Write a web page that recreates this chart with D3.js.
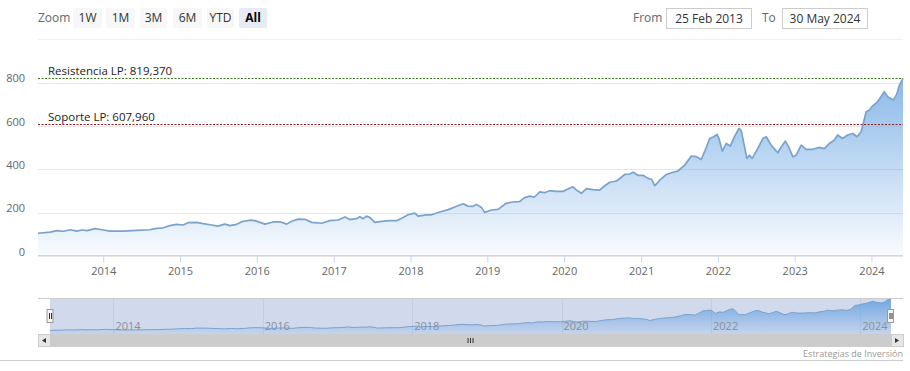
<!DOCTYPE html>
<html>
<head>
<meta charset="utf-8">
<script src="https://cdn.jsdelivr.net/npm/d3@7"></script>
<style>
  body { margin: 0; background: #fff; }
  svg { display: block; font-family: "Open Sans", "DejaVu Sans", sans-serif; }
</style>
</head>
<body>
<div id="graph"></div>
<script>
// price series
const dates = [
  "2013-02-25","2013-04-23","2013-05-26","2013-06-26","2013-07-28","2013-08-29","2013-09-22","2013-10-16","2013-11-24",
  "2014-01-02","2014-02-03","2014-04-07","2014-06-09","2014-08-11","2014-09-12","2014-10-13","2014-11-14","2014-12-16",
  "2015-01-17","2015-02-10","2015-03-20","2015-04-21","2015-05-31","2015-07-01","2015-08-02","2015-08-26","2015-09-27","2015-10-28","2015-11-29","2015-12-23",
  "2016-01-16","2016-02-09","2016-03-19","2016-04-20","2016-05-22","2016-06-15","2016-07-16","2016-08-17","2016-09-18","2016-11-04","2016-12-13",
  "2017-01-22","2017-02-23","2017-03-18","2017-04-19","2017-05-05","2017-05-21","2017-06-06","2017-06-22","2017-07-15","2017-08-16","2017-09-24","2017-10-27","2017-11-27","2017-12-20",
  "2018-01-21","2018-02-06","2018-03-18","2018-04-11","2018-05-20","2018-06-29","2018-07-30","2018-09-08","2018-10-01","2018-10-25","2018-11-10","2018-12-04","2018-12-19",
  "2019-01-20","2019-02-21","2019-04-01","2019-05-02","2019-06-03","2019-06-27","2019-07-21","2019-08-13","2019-09-07","2019-09-30","2019-10-24","2019-11-25","2019-12-27",
  "2020-01-19","2020-02-12","2020-02-28","2020-03-23","2020-04-16","2020-05-17","2020-06-18","2020-07-12","2020-08-05","2020-09-06","2020-09-29","2020-10-15","2020-11-08","2020-11-24","2020-12-17",
  "2021-01-10","2021-02-03","2021-02-19","2021-03-07","2021-03-31","2021-05-01","2021-06-02","2021-06-25","2021-07-27","2021-08-28","2021-09-21","2021-10-14","2021-10-30","2021-11-23","2021-12-12","2021-12-28",
  "2022-01-06","2022-01-22","2022-02-10","2022-03-01","2022-03-21","2022-04-11","2022-04-22","2022-05-19","2022-06-01","2022-06-13","2022-07-10","2022-08-03","2022-08-19","2022-09-11","2022-10-13","2022-10-29","2022-11-18","2022-12-03","2022-12-23",
  "2023-01-08","2023-02-01","2023-02-25","2023-03-28","2023-04-29","2023-05-22","2023-06-15","2023-07-09","2023-07-24","2023-08-17","2023-09-10","2023-10-04","2023-10-25","2023-11-13","2023-12-07","2023-12-23",
  "2024-01-04","2024-01-30","2024-03-02","2024-03-18","2024-04-14","2024-04-30","2024-05-13","2024-05-30"
];
const prices = [
  105,110,117,114,121,115,120,117,126,
  120,115,115,118,121,127,130,140,146,
  143,154,155,149,143,138,147,140,146,160,165,163,
  155,147,157,158,147,160,170,169,155,151,163,
  166,180,168,172,181,172,184,177,155,160,163,163,178,190,
  198,184,190,190,203,214,226,241,230,229,238,224,201,
  212,215,243,249,251,269,276,272,296,292,301,298,298,
  309,319,305,289,311,306,304,324,340,346,363,376,378,386,372,
  372,358,354,324,350,376,386,392,419,461,458,445,481,542,550,561,
  542,484,519,507,550,588,578,450,465,450,496,542,550,511,476,503,530,503,458,
  465,511,492,492,501,495,519,535,558,542,558,565,550,573,665,673,
  690,711,757,734,719,745,788,819
];
const yTicks = [0, 200, 400, 600, 800];
const xTickYears = [2014, 2015, 2016, 2017, 2018, 2019, 2020, 2021, 2022, 2023, 2024];
const navTickYears = [2014, 2016, 2018, 2020, 2022, 2024];
const levelNames = ["Resistencia LP: 819,370", "Soporte LP: 607,960"];
const levelValues = [819.37, 607.96];
const levelColors = ["#3d7a1f", "#8b1c1c"];
const zoomButtons = ["1W", "1M", "3M", "6M", "YTD", "All"];
const rangeFrom = "25 Feb 2013", rangeTo = "30 May 2024";

const parse = d3.timeParse("%Y-%m-%d");
const data = dates.map((d, i) => ({date: parse(d), value: prices[i]}));

const width = 910, height = 371;
const svg = d3.select("#graph").append("svg").attr("width", width).attr("height", height);
const defs = svg.append("defs");

const x = d3.scaleTime().domain([new Date(2013, 1, 25), new Date(2024, 4, 30)]).range([38, 903]);
const y = d3.scaleLinear().domain([0, 800]).range([256, 82.5]);

// gradient for the main area
const grad = defs.append("linearGradient").attr("id", "areaGrad")
  .attr("gradientUnits", "userSpaceOnUse").attr("x1", 0).attr("x2", 0).attr("y1", 78).attr("y2", 256);
grad.append("stop").attr("offset", 0).attr("stop-color", "#6aa5e3").attr("stop-opacity", 0.78);
grad.append("stop").attr("offset", 1).attr("stop-color", "#6aa5e3").attr("stop-opacity", 0.04);

// top line under the range selector
svg.append("line").attr("x1", 38).attr("x2", 903).attr("y1", 39.5).attr("y2", 39.5)
  .attr("stroke", "#f0f0f0");

// grid + y labels
svg.append("g").selectAll("line").data(yTicks).enter().append("line")
  .attr("x1", 38).attr("x2", 903)
  .attr("y1", d => Math.round(y(d)) + 0.5).attr("y2", d => Math.round(y(d)) + 0.5)
  .attr("stroke", "#e6e6e6");
svg.append("g").selectAll("text").data(yTicks).enter().append("text")
  .attr("x", 25).attr("y", d => y(d) - 4).attr("dy", "0.35em")
  .attr("text-anchor", "end").attr("font-size", 11).attr("fill", "#666")
  .text(d => d);

// area + line
const area = d3.area().x(d => x(d.date)).y0(y(0)).y1(d => y(d.value));
const line = d3.line().x(d => x(d.date)).y(d => y(d.value));
svg.append("path").datum(data).attr("d", area).attr("fill", "url(#areaGrad)");
svg.append("path").datum(data).attr("d", line).attr("fill", "none")
  .attr("stroke", "#7aa2cc").attr("stroke-width", 1.7).attr("stroke-linejoin", "round");

// x axis
const xAxis = d3.axisBottom(x)
  .tickValues(xTickYears.map(yr => new Date(yr, 0, 1)))
  .tickFormat(d3.timeFormat("%Y")).tickSize(7).tickPadding(5);
const gx = svg.append("g").attr("transform", "translate(0,255.5)").call(xAxis);
gx.select(".domain").attr("stroke", "#ccd6eb").attr("d", "M38,0H903");
gx.selectAll(".tick line").attr("stroke", "#ccd6eb");
gx.selectAll(".tick text").attr("fill", "#666").attr("font-size", 11)
  .attr("font-family", "Open Sans, DejaVu Sans, sans-serif");

// support / resistance lines
levelValues.forEach((v, i) => {
  svg.append("line").attr("x1", 38).attr("x2", 903)
    .attr("y1", Math.round(y(v)) + 0.5).attr("y2", Math.round(y(v)) + 0.5)
    .attr("stroke", levelColors[i]).attr("stroke-dasharray", "2,1.5").attr("stroke-width", 1);
  svg.append("text").attr("x", 48).attr("y", y(v) - 3)
    .attr("font-size", 11.5).attr("fill", "#222").text(levelNames[i]);
});

// range selector
svg.append("text").attr("x", 38).attr("y", 18).attr("dy", "0.35em")
  .attr("font-size", 12).attr("fill", "#666").text("Zoom");
const btnX = [73, 106, 140, 173, 207, 239];
const btnW = [29, 29, 27, 29, 27, 28];
zoomButtons.forEach((b, i) => {
  const sel = b === "All";
  svg.append("rect").attr("x", btnX[i]).attr("y", 8).attr("width", btnW[i]).attr("height", 20)
    .attr("rx", 2).attr("fill", sel ? "#e6ebf5" : "#f7f7f7");
  svg.append("text").attr("x", btnX[i] + btnW[i] / 2).attr("y", 18).attr("dy", "0.35em")
    .attr("text-anchor", "middle").attr("font-size", 12)
    .attr("fill", sel ? "#000" : "#333").attr("font-weight", sel ? "bold" : "normal").text(b);
});
[["From", 633, 666, rangeFrom], ["To", 762, 782, rangeTo]].forEach(([lab, lx, bx, val]) => {
  svg.append("text").attr("x", lx).attr("y", 18).attr("dy", "0.35em")
    .attr("font-size", 12).attr("fill", "#666").text(lab);
  svg.append("rect").attr("x", bx + 0.5).attr("y", 8.5).attr("width", 85).attr("height", 20)
    .attr("fill", "#fff").attr("stroke", "#cccccc");
  svg.append("text").attr("x", bx + 43).attr("y", 18.5).attr("dy", "0.35em")
    .attr("text-anchor", "middle").attr("font-size", 12).attr("fill", "#333").text(val);
});

// navigator
const nx = d3.scaleTime().domain(x.domain()).range([50, 891]);
const ny = d3.scaleLinear().domain([0, 830]).range([335, 298]);
const ngrad = defs.append("linearGradient").attr("id", "navGrad")
  .attr("gradientUnits", "userSpaceOnUse").attr("x1", 0).attr("x2", 0).attr("y1", 298).attr("y2", 334);
ngrad.append("stop").attr("offset", 0).attr("stop-color", "#5e9de0").attr("stop-opacity", 0.85);
ngrad.append("stop").attr("offset", 1).attr("stop-color", "#5e9de0").attr("stop-opacity", 0.1);

svg.append("rect").attr("x", 50).attr("y", 298).attr("width", 841).attr("height", 36)
  .attr("fill", "rgba(102,133,194,0.3)");
svg.append("g").selectAll("line").data(navTickYears).enter().append("line")
  .attr("x1", d => Math.round(nx(new Date(d, 0, 1))) + 0.5).attr("x2", d => Math.round(nx(new Date(d, 0, 1))) + 0.5)
  .attr("y1", 298).attr("y2", 334).attr("stroke", "#c4cde0");
const narea = d3.area().x(d => nx(d.date)).y0(334).y1(d => ny(d.value));
const nline = d3.line().x(d => nx(d.date)).y(d => ny(d.value));
svg.append("path").datum(data).attr("d", narea).attr("fill", "url(#navGrad)");
svg.append("path").datum(data).attr("d", nline).attr("fill", "none")
  .attr("stroke", "#7aa2cc").attr("stroke-width", 1);
svg.append("g").selectAll("text").data(navTickYears).enter().append("text")
  .attr("x", d => nx(new Date(d, 0, 1)) + 2).attr("y", 330)
  .attr("font-size", 11).attr("fill", "#8a8f99").text(d => d);
svg.append("line").attr("x1", 38).attr("x2", 903).attr("y1", 298.5).attr("y2", 298.5)
  .attr("stroke", "#cccccc");

// handles
[50, 890.5].forEach(hx => {
  svg.append("rect").attr("x", hx - 3).attr("y", 309.5).attr("width", 6).attr("height", 13)
    .attr("fill", "#f2f2f2").attr("stroke", "#999");
  [-1, 1].forEach(o => svg.append("line").attr("x1", hx + o + 0.5).attr("x2", hx + o + 0.5)
    .attr("y1", 313).attr("y2", 319).attr("stroke", "#333"));
});

// scrollbar
svg.append("rect").attr("x", 38).attr("y", 334).attr("width", 865).attr("height", 13).attr("fill", "#f2f2f2");
svg.append("rect").attr("x", 50).attr("y", 334).attr("width", 841).attr("height", 13).attr("fill", "#cccccc");
[[38, "M46,338L42,340.5L46,343Z"], [891, "M895,338L899,340.5L895,343Z"]].forEach(([bx, p]) => {
  svg.append("rect").attr("x", bx + 0.5).attr("y", 334.5).attr("width", 12).attr("height", 12)
    .attr("fill", "#e6e6e6").attr("stroke", "#ccc");
  svg.append("path").attr("d", p).attr("fill", "#333");
});
[-2.5, 0, 2.5].forEach(o => svg.append("line")
  .attr("x1", 470.5 + o).attr("x2", 470.5 + o).attr("y1", 338).attr("y2", 343)
  .attr("stroke", "#333"));

// bottom rule + credits
svg.append("line").attr("x1", 0).attr("x2", 903).attr("y1", 360.5).attr("y2", 360.5).attr("stroke", "#cccccc");
svg.append("text").attr("x", 903).attr("y", 357).attr("text-anchor", "end")
  .attr("font-size", 9).attr("fill", "#999").text("Estrategias de Inversión");
</script>
</body>
</html>
